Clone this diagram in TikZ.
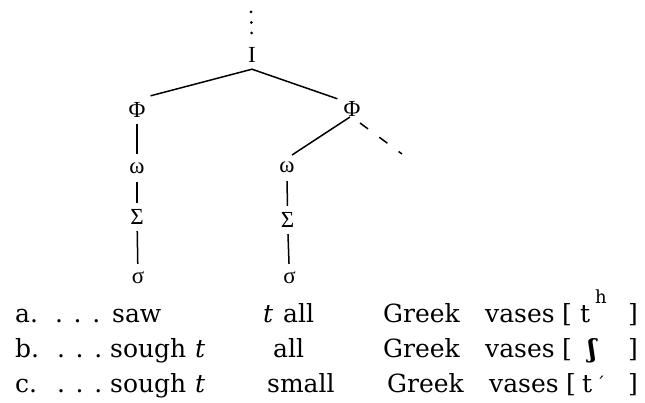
\documentclass[tikz,border=0pt]{standalone}
\usepackage{fontspec}
\setmainfont{DejaVu Serif}
\newfontfamily\treefont{Liberation Serif}
\usetikzlibrary{calc}
\begin{document}
\begin{tikzpicture}[x=1pt,y=-1pt,
  cat/.style={inner sep=0pt, minimum height=28pt, font=\treefont\fontsize{23}{23}\selectfont},
  branch/.style={line width=1.5pt},
  word/.style={inner sep=0pt, anchor=base west, font=\fontsize{25}{30}\selectfont},
  supword/.style={inner sep=0pt, anchor=base west, font=\fontsize{18}{20}\selectfont}]
\useasboundingbox (0,0) rectangle (645,403);

% prosodic tree
\node[cat] (I) at (252,55) {I};
\coordinate (above) at (251,12);
\node[cat] (phiL) at (137,110) {Φ};
\node[cat] (phiR) at (352,109) {Φ};
\node[cat] (omL) at (137,168) {ω};
\node[cat] (SigL) at (137,217) {Σ};
\node[cat] (sigL) at (138,278) {σ};
\node[cat] (omR) at (287,167) {ω};
\node[cat] (SigR) at (287.5,220) {Σ};
\node[cat] (sigR) at (289.5,278) {σ};
\coordinate (more) at (402,154);

\draw[line width=3pt, line cap=round, dash pattern=on 0pt off 10.5pt] (above) -- (I.north);
\draw[branch] (I.south) -- ($(phiL.north east)+(5,0)$);
\draw[branch] (I.south) -- ($(phiR.north west)+(-6,4)$);
\draw[branch] ($(phiR)+(-2,8)$) -- ($(omR)+(5,-12)$);
\draw[branch, dash pattern=on 10pt off 14pt] ($(phiR)+(8,14)$) -- (more);
\draw[branch] (phiL) -- (omL);
\draw[branch] (omL) -- (SigL);
\draw[branch] (SigL) -- (sigL);
\draw[branch] (omR) -- (SigR);
\draw[branch] (SigR) -- (sigR);

% example (a)
\node[word] (aLab) at (15,322) {a.};
\node[word] (aDots) at (55,322) {. . .};
\node[word] (aSaw) at (112,322) {saw};
\node[word] (aT) at (263,322) {\textit{t}};
\node[word] (aAll) at (283,322) {all};
\node[word] (aGreek) at (383,322) {Greek};
\node[word] (aVases) at (485,322) {vases};
\node[word] (aOpen) at (562,322) {[};
\node[word] (aSeg) at (580,322) {t};
\node[supword] (aSup) at (595,304) {h};
\node[word] (aClose) at (628,322) {]};

% example (b)
\node[word] (bLab) at (15,357) {b.};
\node[word] (bDots) at (57,357) {. . .};
\node[word] (bSough) at (110,357) {sough};
\node[word] (bT) at (195,357) {\textit{t}};
\node[word] (bAll) at (273,357) {all};
\node[word] (bGreek) at (383,357) {Greek};
\node[word] (bVases) at (485,357) {vases};
\node[word] (bOpen) at (562,357) {[};
\node[word] (bSeg) at (588,357) {\bfseries ʃ};
\node[word] (bClose) at (628,357) {]};

% example (c)
\node[word] (cLab) at (15,392) {c.};
\node[word] (cDots) at (57,392) {. . .};
\node[word] (cSough) at (110,392) {sough};
\node[word] (cT) at (195,392) {\textit{t}};
\node[word] (cSmall) at (267,392) {small};
\node[word] (cGreek) at (387,392) {Greek};
\node[word] (cVases) at (489,392) {vases};
\node[word] (cOpen) at (566,392) {[};
\node[word] (cSeg) at (582,392) {t};
\node[supword] (cSup) at (596,390) {´};
\node[word] (cClose) at (628,392) {]};
\end{tikzpicture}
\end{document}
